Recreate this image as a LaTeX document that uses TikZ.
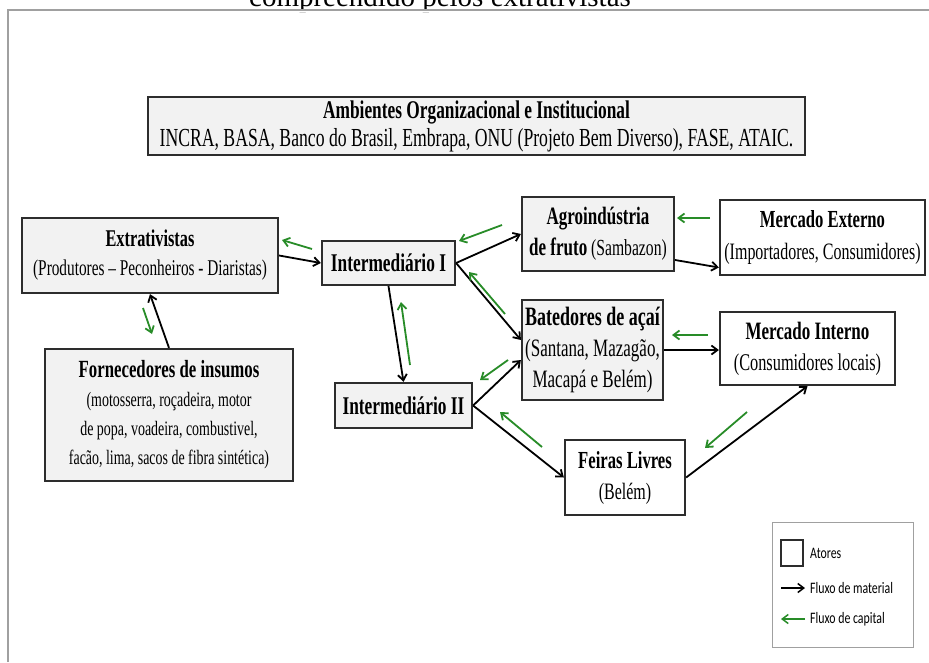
\documentclass[tikz,border=0pt]{standalone}
\usepackage{fontspec}
\setmainfont[FakeStretch=0.68]{Liberation Serif}
\newfontfamily\capfont[FakeStretch=1.0]{Liberation Serif}
\newfontfamily\legfont[FakeStretch=0.74]{Carlito}
\usetikzlibrary{arrows.meta,calc}
\definecolor{boxfill}{RGB}{242,242,242}
\definecolor{boxline}{RGB}{45,45,45}
\definecolor{capgreen}{RGB}{40,140,40}
\definecolor{framegray}{RGB}{160,160,160}
\newcommand\ttl[2][24]{{\fontsize{#1}{#1}\selectfont\bfseries #2}}
\newcommand\fs[2]{\fontsize{#1}{#2}\selectfont}
\tikzset{
  actor/.style={draw=boxline, line width=2.2pt, fill=boxfill, align=center, inner sep=0pt,
    font=\fs{21}{27}},
  actorw/.style={actor, fill=white},
  matflow/.style={line width=1.8pt, black, -{Straight Barb[length=6pt,width=9pt]}},
  capflow/.style={line width=1.8pt, capgreen, -{Straight Barb[length=6pt,width=9pt]}},
  legtext/.style={anchor=west, inner sep=0pt, font=\legfont\fs{16}{18}},
}
\begin{document}
\begin{tikzpicture}[x=1pt,y=1pt]
\useasboundingbox (0,0) rectangle (929,-662);
% caption cut off at the top
\node[anchor=base, inner sep=0pt, font=\capfont\fs{29}{32}] (captxt) at (440,-6) {compreendido pelos extrativistas};
% frame
\fill[white] (0,-9) rectangle (929,-12);
\draw[framegray, line width=1.6pt] (8,-662) -- (8,-10) -- (935,-10);
% nodes
\node[actor, font=\fs{26}{28}, minimum width=657, minimum height=58] (amb) at (476.5,-126)
  {\ttl[25.5]{Ambientes Organizacional e Institucional}\\INCRA, BASA, Banco do Brasil, Embrapa, ONU (Projeto Bem Diverso), FASE, ATAIC.};
\node[actor, font=\fs{22.5}{29}, minimum width=256, minimum height=75] (ext) at (150,-255.5)
  {\ttl[24]{Extrativistas}\\(Produtores -- Peconheiros - Diaristas)};
\node[actor, minimum width=133, minimum height=44] (int1) at (388.5,-263)
  {\ttl[25.5]{Intermediário I}};
\node[actor, font=\fs{23}{31}, minimum width=152, minimum height=74] (agro) at (598,-234)
  {\ttl[25]{Agroindústria}\\\ttl[25]{de fruto} (Sambazon)};
\node[actorw, font=\fs{23.5}{32}, minimum width=205, minimum height=75] (mext) at (822.5,-237.5)
  {\ttl[24.5]{Mercado Externo}\\(Importadores, Consumidores)};
\node[actor, font=\fs{25}{31}, minimum width=141, minimum height=100] (bat) at (592.5,-350)
  {\ttl[26.5]{Batedores de açaí}\\(Santana, Mazagão,\\Macapá e Belém)};
\node[actorw, font=\fs{24}{31}, minimum width=175, minimum height=73] (mint) at (807.5,-348.5)
  {\ttl[25]{Mercado Interno}\\(Consumidores locais)};
\node[actorw, font=\fs{23.5}{31}, minimum width=120, minimum height=75] (feir) at (625,-477.5)
  {\ttl[24.5]{Feiras Livres}\\(Belém)};
\node[actor, minimum width=137, minimum height=45] (int2) at (403.5,-405.5)
  {\ttl[25.5]{Intermediário II}};
\node[actor, font=\fs{20.5}{29}, minimum width=248, minimum height=132] (forn) at (169,-415)
  {\ttl[24.7]{Fornecedores de insumos}\\(motosserra, roçadeira, motor\\de popa, voadeira, combustivel,\\facão, lima, sacos de fibra sintética)};
% material flows
\draw[matflow] (ext.east) -- (int1.west);
\draw[matflow] (forn.north) -- (ext.south);
\draw[matflow] (int1.south) -- (int2.north);
\draw[matflow] (int1.east) -- (agro.west);
\draw[matflow] (int1.east) -- ([yshift=10pt]bat.west);
\draw[matflow] ([yshift=-26pt]agro.east) -- ([yshift=-30pt]mext.west);
\draw[matflow] (bat.east) -- (bat.east -| mint.west);
\draw[matflow] (int2.east) -- ([yshift=-10pt]bat.west);
\draw[matflow] (int2.east) -- (feir.west);
\draw[matflow] (feir.east) -- (mint.south);
% capital flows
\draw[capflow] (312,-249) -- (282,-240);
\draw[capflow] (143,-308) -- (152,-334);
\draw[capflow] (410,-365) -- (401,-302);
\draw[capflow] (502,-225) -- (459,-241);
\draw[capflow] (505,-314) -- (469,-272);
\draw[capflow] (710,-218) -- (677,-218);
\draw[capflow] (708,-335) -- (672,-335);
\draw[capflow] (508,-360) -- (480,-380);
\draw[capflow] (542,-447) -- (500,-412);
\draw[capflow] (747,-412) -- (705,-448);
% legend
\node[draw=framegray, line width=0.8pt, minimum width=141, minimum height=125, inner sep=0pt] (leg) at (842.5,-584.5) {};
\node[draw=boxline, line width=1.6pt, minimum width=22, minimum height=26, inner sep=0pt] (legbox) at (792,-553) {};
\node[legtext] (legt1) at (810,-553) {Atores};
\coordinate (lm1) at (781,-588);
\coordinate (lm2) at (805,-588);
\draw[matflow, line width=1.5pt] (lm1) -- (lm2);
\node[legtext] (legt2) at (810,-588) {Fluxo de material};
\coordinate (lc1) at (805,-619);
\coordinate (lc2) at (781,-619);
\draw[capflow, line width=1.5pt] (lc1) -- (lc2);
\node[legtext] (legt3) at (810,-619) {Fluxo de capital};
\end{tikzpicture}
\end{document}
